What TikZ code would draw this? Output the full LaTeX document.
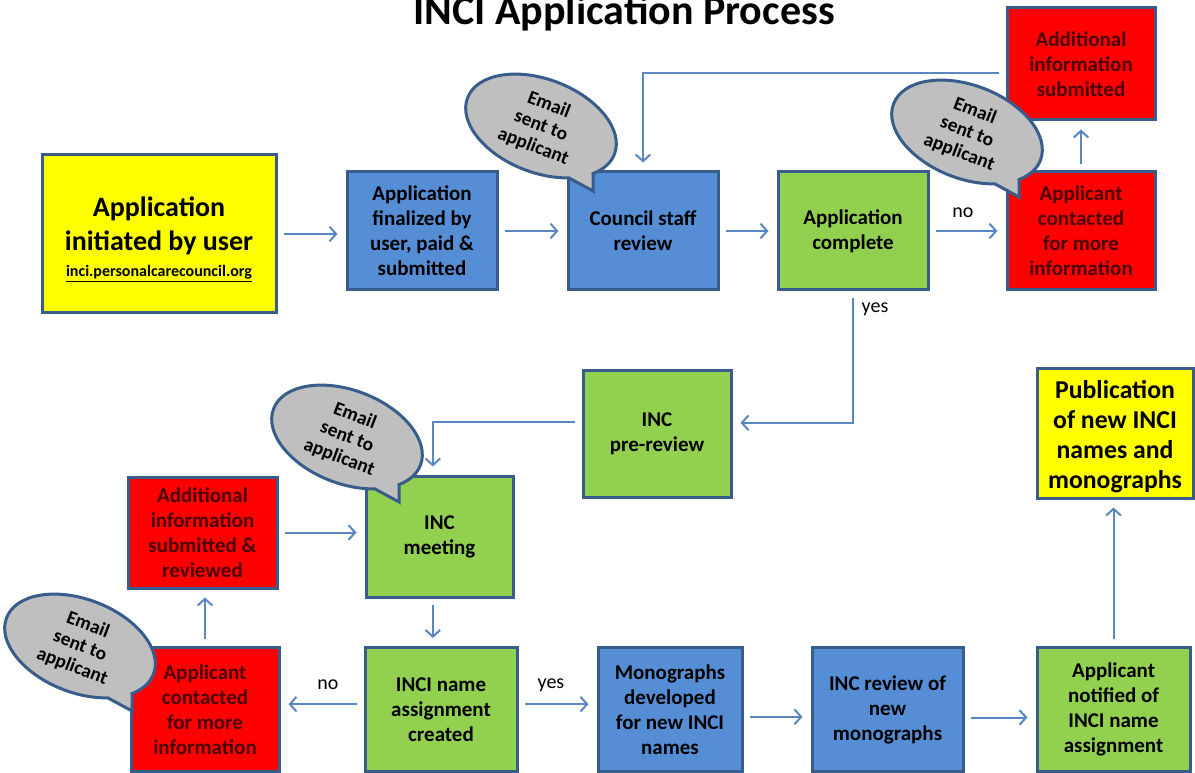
\documentclass[tikz,border=0pt]{standalone}
\usepackage{fontspec}
\setmainfont{Carlito}
\usetikzlibrary{arrows.meta,shapes.callouts,calc}
\definecolor{bordc}{HTML}{385D8A}
\definecolor{yel}{HTML}{FFFF00}
\definecolor{blu}{HTML}{558ED5}
\definecolor{grn}{HTML}{92D050}
\definecolor{rd}{HTML}{FF0000}
\definecolor{redtxt}{HTML}{4A0000}
\definecolor{bubg}{HTML}{BFBFBF}
\definecolor{arrc}{HTML}{5A87C0}
\begin{document}
\begin{tikzpicture}[x=0.75pt,y=-0.75pt,
  box/.style={draw=bordc, line width=2.25pt, align=center, inner sep=0pt,
    font=\bfseries\fontsize{15.75}{18.75}\selectfont},
  yb/.style={box, fill=yel},
  bb/.style={box, fill=blu},
  gb/.style={box, fill=grn},
  rb/.style={box, fill=rd, text=redtxt},
  bubble/.style={ellipse callout, draw=bordc, fill=bubg, line width=2.25pt,
    rotate=-21, minimum width=118pt, minimum height=70pt, inner sep=0pt,
    align=center, font=\bfseries\fontsize{14.5}{16.5}\selectfont,
    callout relative pointer={(12pt,-7pt)}, callout pointer arc=22},
  arr/.style={draw=arrc, line width=1.5pt, -{Straight Barb[length=5pt,width=11pt]},
    shorten <=5pt, shorten >=6pt},
  lbl/.style={font=\fontsize{15}{17}\selectfont, inner sep=0pt}
]
\useasboundingbox (0,0) rectangle (1195,773);
\fill[white] (0,0) rectangle (1195,773);

\node[anchor=base, font=\bfseries\fontsize{31.5}{36}\selectfont] (title) at (624,25) {INCI Application Process};

% top row
\node[yb, minimum width=175.5pt, minimum height=118.5pt] (init) at (159,234) {};
\node[align=center, inner sep=0pt, font=\bfseries\fontsize{21}{25.5}\selectfont] (initt) at ([yshift=-4pt]init.center)
  {Application\\initiated by user\\[-6pt]{\fontsize{12}{14}\selectfont\underline{inci.personalcarecouncil.org}}};
\node[bb, minimum width=112.5pt, minimum height=88.5pt] (fin) at (422,231)
  {Application\\finalized by\\user, paid \&\\submitted};
\node[bb, minimum width=112.5pt, minimum height=88.5pt] (csr) at (643,231)
  {Council staff\\review};
\node[gb, minimum width=112.5pt, minimum height=88.5pt] (comp) at (853,231)
  {Application\\complete};
\node[rb, minimum width=111pt, minimum height=88.5pt] (con1) at (1081,231)
  {Applicant\\contacted\\for more\\information};
\node[rb, minimum width=111pt, minimum height=84pt] (add1) at (1081,64)
  {Additional\\information\\submitted};

% middle
\node[gb, minimum width=111pt, minimum height=95.25pt] (prerev) at (657,433.5)
  {INC\\pre-review};
\node[gb, minimum width=110.25pt, minimum height=90.75pt] (meet) at (439.5,536.5)
  {INC\\meeting};
\node[rb, minimum width=111.75pt, minimum height=83.25pt] (add2) at (202.5,532.5)
  {Additional\\information\\submitted \&\\reviewed};
\node[yb, minimum width=117pt, minimum height=97.5pt] (pub) at (1115,433) {};
\node[align=center, inner sep=0pt, font=\bfseries\fontsize{19.3}{22.5}\selectfont] (pubt) at ([yshift=-3pt]pub.center)
  {Publication\\of new INCI\\names and\\monographs};

% bottom row
\node[rb, minimum width=111pt, minimum height=93pt] (con2) at (205,709.5)
  {Applicant\\contacted\\for more\\information};
\node[gb, minimum width=114pt, minimum height=93pt] (created) at (441,709.5)
  {INCI name\\assignment\\created};
\node[bb, minimum width=108pt, minimum height=93pt] (mono) at (670,709.5)
  {Monographs\\developed\\for new INCI\\names};
\node[bb, minimum width=113.25pt, minimum height=93pt] (review) at (887.5,709.5)
  {INC review of\\new\\monographs};
\node[gb, minimum width=114.75pt, minimum height=93pt] (notif) at (1113.5,709.5)
  {Applicant\\notified of\\INCI name\\assignment};

% connectors
\draw[arr] (init.east) -- (init.east -| fin.west);
\draw[arr] (fin.east) -- (fin.east -| csr.west);
\draw[arr] (csr.east) -- (csr.east -| comp.west);
\draw[arr] (comp.east) -- (comp.east -| con1.west);
\draw[arr] (con1.north) -- (add1.south);
\draw[arr] ([yshift=-7pt]add1.west) -| (csr.north);
\draw[arr] (comp.south) |- ([yshift=8pt]prerev.east);
\draw[arr] ([yshift=9pt]prerev.west) -| ([xshift=-5pt]meet.north);
\draw[arr] (add2.east) -- (add2.east -| meet.west);
\draw[arr] ([xshift=-5pt]meet.south) -- ([xshift=-5pt]meet.south |- created.north);
\draw[arr] ([yshift=4pt]created.west) -- ([yshift=4pt]created.west -| con2.east);
\draw[arr] ([yshift=4pt]created.east) -- ([yshift=4pt]created.east -| mono.west);
\draw[arr] ([yshift=-5.5pt]mono.east) -- ([yshift=-5.5pt]mono.east -| review.west);
\draw[arr] ([yshift=-6pt]review.east) -- ([yshift=-6pt]review.east -| notif.west);
\draw[arr] (notif.north) -- (notif.north |- pub.south);
\draw[arr] (con2.north) -- (con2.north |- add2.south);

% labels
\node[lbl] (no1) at (963,213) {no};
\node[lbl] (yes1) at (875,309) {yes};
\node[lbl] (no2) at (328,685) {no};
\node[lbl] (yes2) at (551,685) {yes};

% bubbles
\node[bubble] (b1) at (541,126) {Email\\sent to\\applicant};
\node[bubble] (b2) at (967,132) {Email\\sent to\\applicant};
\node[bubble] (b3) at (347,437) {Email\\sent to\\applicant};
\node[bubble] (b4) at (80,646) {Email\\sent to\\applicant};
\end{tikzpicture}
\end{document}
